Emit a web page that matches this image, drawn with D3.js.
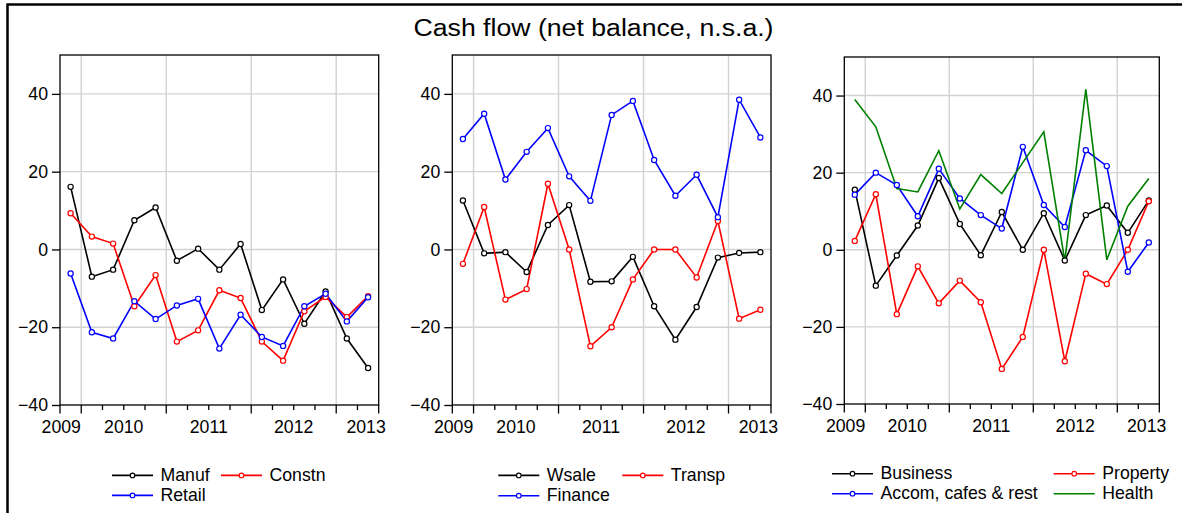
<!DOCTYPE html>
<html><head><meta charset="utf-8">
<script src="https://cdn.jsdelivr.net/npm/d3@7/dist/d3.min.js"></script>
<style>
body{margin:0;background:#fff}
text{font-family:"Liberation Sans",Arial,Helvetica,sans-serif;fill:#000}
</style>
</head><body>
<svg id="chart" width="1182" height="513"></svg>
<script>
// ---------- data ----------
const quarters = ["2009Q4","2010Q1","2010Q2","2010Q3","2010Q4","2011Q1","2011Q2","2011Q3","2011Q4","2012Q1","2012Q2","2012Q3","2012Q4","2013Q1","2013Q2"];
const yearLabels = ["2009","2010","2011","2012","2013"];
const yTickValues = [-40,-20,0,20,40];
const yDomain = [-40,50];
const title = "Cash flow (net balance, n.s.a.)";

const manuf   = [16.1,-7.0,-5.2,7.5,10.8,-2.9,0.2,-5.2,1.4,-15.6,-7.7,-19.1,-10.8,-22.9,-30.5];
const constn  = [9.3,3.3,1.5,-14.6,-6.6,-23.7,-20.8,-10.5,-12.5,-23.7,-28.6,-15.9,-12.2,-17.4,-12.0];
const retail  = [-6.2,-21.3,-22.9,-13.3,-17.9,-14.4,-12.7,-25.5,-16.8,-22.5,-24.8,-14.6,-11.4,-18.5,-12.3];

const wsale   = [12.6,-1.0,-0.7,-5.8,6.3,11.4,-8.3,-8.2,-1.9,-14.6,-23.2,-14.8,-2.1,-0.9,-0.7];
const transp  = [-3.7,10.9,-12.9,-10.2,16.9,0.0,-24.9,-20.0,-7.7,0.0,0.0,-7.2,7.3,-17.8,-15.5];
const finance = [28.4,34.9,18.0,25.1,31.2,18.8,12.5,34.6,38.2,23.0,13.8,19.2,8.3,38.5,28.8];

const business = [15.6,-9.3,-1.5,6.3,18.6,6.7,-1.4,9.8,0.0,9.5,-2.8,9.0,11.5,4.4,12.8];
const property = [2.3,14.4,-16.7,-4.3,-13.9,-8.0,-13.6,-30.9,-22.6,0.0,-28.9,-6.2,-8.9,0.0,12.6];
const accom    = [14.3,20.0,16.8,8.7,21.0,13.3,9.0,5.5,26.7,11.6,5.9,25.8,21.7,-5.7,1.9];
const health   = [39.0,31.9,15.9,15.0,25.7,10.6,19.5,14.6,22.6,30.6,-2.9,41.6,-2.6,11.3,18.5];

// ---------- layout ----------
const panels = [
  {box:{l:60,r:378.7,t:55,b:405},
   series:[{name:"Manuf",values:manuf,color:"#000000",marker:true},
           {name:"Constn",values:constn,color:"#ff0000",marker:true},
           {name:"Retail",values:retail,color:"#0000ff",marker:true}],
   legend:{cols:[112,221],rows:[480.7,500.7]}},
  {box:{l:452.3,r:771,t:55,b:405},
   series:[{name:"Wsale",values:wsale,color:"#000000",marker:true},
           {name:"Transp",values:transp,color:"#ff0000",marker:true},
           {name:"Finance",values:finance,color:"#0000ff",marker:true}],
   legend:{cols:[498.3,622.3],rows:[480.7,501]}},
  {box:{l:844.3,r:1159.3,t:57,b:404},
   series:[{name:"Business",values:business,color:"#000000",marker:true},
           {name:"Property",values:property,color:"#ff0000",marker:true},
           {name:"Accom, cafes & rest",values:accom,color:"#0000ff",marker:true},
           {name:"Health",values:health,color:"#008000",marker:false}],
   legend:{cols:[832,1053.7],rows:[479,499]}}
];

const svg = d3.select("#chart");
svg.append("rect").attr("width",1182).attr("height",513).attr("fill","#fff");
// outer frame (top and left visible)
svg.append("path").attr("d","M7.5,513 L7.5,4.5 L1182,4.5").attr("fill","none").attr("stroke","#000").attr("stroke-width",2.5);

svg.append("text").attr("x",593.5).attr("y",35.5).attr("text-anchor","middle")
  .attr("font-size",23).attr("textLength",360).attr("lengthAdjust","spacingAndGlyphs").text(title);

const FS = 17.7;
const yearOf = q => q.slice(0,4);

panels.forEach(p => {
  const B = p.box;
  const x = d3.scaleBand().domain(quarters).range([B.l,B.r]).padding(0);
  const y = d3.scaleLinear().domain(yDomain).range([B.b,B.t]);
  const bw = x.bandwidth();
  const g = svg.append("g");

  // boundaries
  const bounds = d3.range(quarters.length+1).map(i => B.l + i*bw);
  const majorIdx = [0];
  quarters.forEach((q,i)=>{ if(i>0 && yearOf(q)!==yearOf(quarters[i-1])) majorIdx.push(i); });
  majorIdx.push(quarters.length);

  // grid
  yTickValues.filter(v=>v>yDomain[0]).forEach(v=>{
    g.append("line").attr("x1",B.l).attr("x2",B.r).attr("y1",y(v)).attr("y2",y(v))
     .attr("stroke","#d2d2d2").attr("stroke-width",1.4);
  });
  majorIdx.slice(1,-1).forEach(i=>{
    g.append("line").attr("x1",bounds[i]).attr("x2",bounds[i]).attr("y1",B.t).attr("y2",B.b)
     .attr("stroke","#d2d2d2").attr("stroke-width",1.4);
  });

  // frame
  g.append("rect").attr("x",B.l).attr("y",B.t).attr("width",B.r-B.l).attr("height",B.b-B.t)
   .attr("fill","none").attr("stroke","#000").attr("stroke-width",1.3);

  // y axis
  const yAxis = d3.axisLeft(y).tickValues(yTickValues).tickSize(8).tickPadding(4).tickFormat(d3.format("d"));
  const ya = g.append("g").attr("transform",`translate(${B.l},0)`).call(yAxis);
  ya.select(".domain").remove();
  ya.selectAll(".tick line").attr("stroke","#000").attr("stroke-width",1.3);
  ya.selectAll(".tick text").attr("font-size",FS).attr("font-family","Liberation Sans, Arial, sans-serif").attr("fill","#000");

  // x ticks
  bounds.forEach((bx,i)=>{
    const major = majorIdx.includes(i);
    g.append("line").attr("x1",bx).attr("x2",bx).attr("y1",B.b).attr("y2",B.b+(major?8.5:5))
     .attr("stroke","#000").attr("stroke-width",1.3);
  });
  // year labels
  yearLabels.forEach((yl,k)=>{
    const idx = quarters.map((q,i)=>yearOf(q)===yl?i:-1).filter(i=>i>=0);
    const a = bounds[idx[0]], b = bounds[idx[idx.length-1]+1];
    let cx = (a+b)/2;
    if(k===0) cx = B.l + 1.3;
    if(k===yearLabels.length-1) cx = B.r - 12.6;
    g.append("text").attr("x",cx).attr("y",B.b+27.5).attr("text-anchor","middle").attr("font-size",FS).text(yl);
  });

  // series
  const line = d3.line().x((d,i)=>x(quarters[i])+bw/2).y(d=>y(d));
  p.series.forEach(s=>{
    g.append("path").datum(s.values).attr("d",line).attr("fill","none")
     .attr("stroke",s.color).attr("stroke-width",1.6).attr("stroke-linejoin","miter");
  });
  p.series.forEach(s=>{
    if(!s.marker) return;
    g.selectAll(null).data(s.values).enter().append("circle")
     .attr("cx",(d,i)=>x(quarters[i])+bw/2).attr("cy",d=>y(d)).attr("r",2.6)
     .attr("fill","#fff").attr("stroke",s.color).attr("stroke-width",1.2);
  });

  // legend
  p.series.forEach((s,i)=>{
    const lx = p.legend.cols[i%2], ly = p.legend.rows[Math.floor(i/2)];
    const my = ly - 5.3;
    g.append("line").attr("x1",lx).attr("x2",lx+41).attr("y1",my).attr("y2",my)
     .attr("stroke",s.color).attr("stroke-width",1.6);
    if(s.marker) g.append("circle").attr("cx",lx+20.5).attr("cy",my).attr("r",2.3)
     .attr("fill","#fff").attr("stroke",s.color).attr("stroke-width",1.1);
    g.append("text").attr("x",lx+48.5).attr("y",ly).attr("font-size",FS).text(s.name);
  });
});
</script>
</body></html>
